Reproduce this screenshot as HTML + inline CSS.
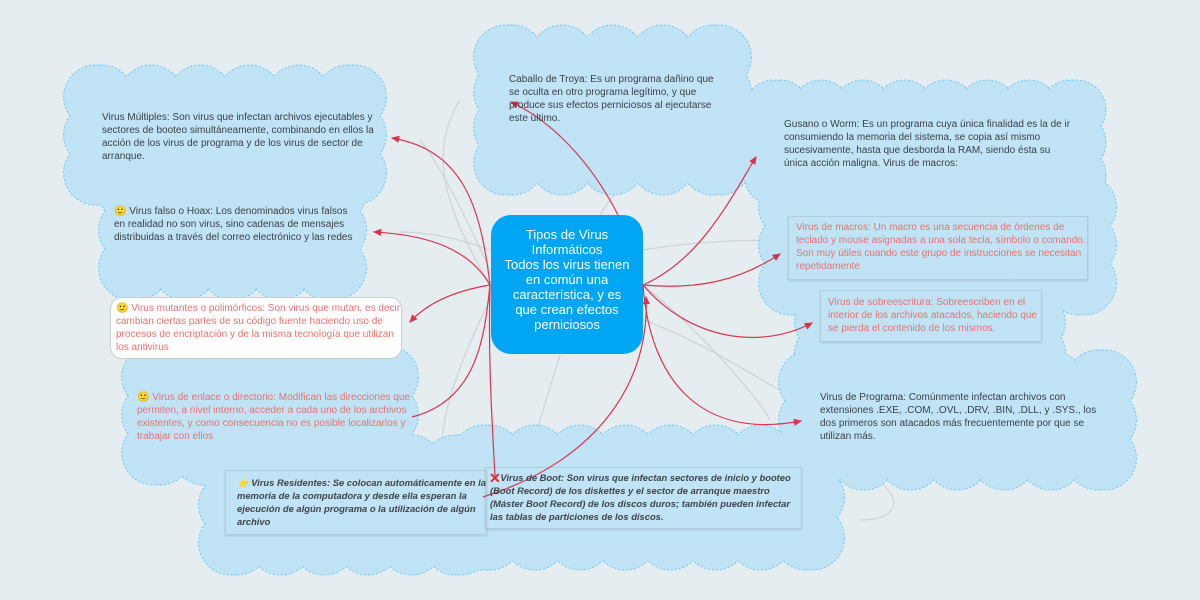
<!DOCTYPE html>
<html><head><meta charset="utf-8"><style>
body{margin:0;width:1200px;height:600px;overflow:hidden;background:#e5edf1;font-family:"Liberation Sans",sans-serif;}
#c{position:absolute;left:0;top:0}
.t{position:absolute;font-size:10px;line-height:12.9px;color:#3a3f44}
.s{color:#e8736e}
.i{font-style:italic;font-weight:bold;color:#3f444a}
.box{position:absolute;border:1px solid rgba(150,160,170,.35);box-shadow:0 1px 2px rgba(0,0,0,.12)}
</style></head><body>
<svg id="c" width="1200" height="600" xmlns="http://www.w3.org/2000/svg">
<defs><marker id="a" markerWidth="8" markerHeight="8" refX="6" refY="3" orient="auto"><path d="M0,0 L7,3 L0,6 z" fill="#d8344f"/></marker></defs>
<g id="gray" fill="none" stroke="#cdd3d6" stroke-width="1.2">
<path d="M490,285 C440,200 430,150 460,100"/><path d="M490,270 C440,160 420,140 420,140"/>
<path d="M490,250 C450,235 420,232 400,232"/><path d="M490,300 C450,380 430,450 450,470"/>
<path d="M643,285 C700,330 760,400 770,420"/><path d="M643,250 C700,240 760,240 800,240"/>
<path d="M643,320 C700,340 760,380 780,390"/><path d="M600,215 C620,180 650,160 700,140"/>
<path d="M560,355 C540,420 520,480 520,520"/><path d="M800,450 C900,470 920,520 860,520"/>
</g>
<g id="clouds"></g>
</svg>
<div class="box" style="left:788px;top:216px;width:298px;height:62px"></div>
<div class="box" style="left:820px;top:290px;width:220px;height:50px"></div>
<div class="box" style="left:225px;top:470px;width:260px;height:63px"></div>
<div class="box" style="left:485px;top:467px;width:315px;height:60px"></div>
<div style="position:absolute;left:110px;top:297px;width:290px;height:60px;background:#fff;border:1px solid #c8d0d5;border-radius:12px"></div>
<div style="position:absolute;left:491px;top:215px;width:152px;height:139px;background:#00a6f4;border-radius:20px"></div>
<svg style="position:absolute;left:0;top:0" width="1200" height="600" xmlns="http://www.w3.org/2000/svg">
<g fill="none" stroke="#d8344f" stroke-width="1.2">
<path d="M490,285 C480,200 460,150 392,138" marker-end="url(#a)"/>
<path d="M490,285 C470,250 430,235 374,232" marker-end="url(#a)"/>
<path d="M490,285 C460,290 430,300 410,322" marker-end="url(#a)"/>
<path d="M412,417 C480,400 485,330 490,285"/>
<path d="M490,285 C488,360 492,420 495,476"/>
<path d="M483,497 C600,460 650,380 646,297" marker-end="url(#a)"/>
<path d="M618,215 C590,160 550,120 511,102" marker-end="url(#a)"/>
<path d="M643,285 C700,260 730,200 756,157" marker-end="url(#a)"/>
<path d="M643,285 C700,290 740,280 780,254" marker-end="url(#a)"/>
<path d="M643,285 C690,340 760,350 812,323" marker-end="url(#a)"/>
<path d="M643,285 C650,380 700,440 801,421" marker-end="url(#a)"/>
</g>
<text x="489" y="483" font-size="14" font-weight="bold" fill="#e3262f" font-family="Liberation Sans">✕</text>
</svg>
<div class="t" style="left:102px;top:112px;width:280px">Virus Múltiples: Son virus que infectan archivos ejecutables y sectores de booteo simultáneamente, combinando en ellos la acción de los virus de programa y de los virus de sector de arranque.</div>
<div class="t" style="left:114px;top:206px;width:245px">🙂 Virus falso o Hoax: Los denominados virus falsos en realidad no son virus, sino cadenas de mensajes distribuidas a través del correo electrónico y las redes</div>
<div class="t s" style="left:116px;top:303px;width:285px">🙂 Virus mutantes o polimórficos: Son virus que mutan, es decir cambian ciertas partes de su código fuente haciendo uso de procesos de encriptación y de la misma tecnología que utilizan los antivirus</div>
<div class="t s" style="left:137px;top:392px;width:275px">🙂 Virus de enlace o directorio: Modifican las direcciones que permiten, a nivel interno, acceder a cada uno de los archivos existentes, y como consecuencia no es posible localizarlos y trabajar con ellos</div>
<div class="t i" style="left:237px;top:477px;width:252px;font-size:9.4px">⭐ Virus Residentes: Se colocan automáticamente en la memoria de la computadora y desde ella esperan la ejecución de algún programa o la utilización de algún archivo</div>
<div class="t i" style="left:490px;top:472px;width:310px;font-size:9.4px">&nbsp;&nbsp;&nbsp;&nbsp;Virus de Boot: Son virus que infectan sectores de inicio y booteo (Boot Record) de los diskettes y el sector de arranque maestro (Máster Boot Record) de los discos duros; también pueden infectar las tablas de particiones de los discos.</div>
<div class="t" style="left:509px;top:74px;width:212px">Caballo de Troya: Es un programa dañino que se oculta en otro programa legítimo, y que produce sus efectos perniciosos al ejecutarse este último.</div>
<div class="t" style="left:784px;top:119px;width:290px">Gusano o Worm: Es un programa cuya única finalidad es la de ir consumiendo la memoria del sistema, se copia así mismo sucesivamente, hasta que desborda la RAM, siendo ésta su única acción maligna. Virus de macros:</div>
<div class="t s" style="left:796px;top:222px;width:290px">Virus de macros: Un macro es una secuencia de órdenes de teclado y mouse asignadas a una sola tecla, símbolo o comando. Son muy útiles cuando este grupo de instrucciones se necesitan repetidamente</div>
<div class="t s" style="left:828px;top:297px;width:212px">Virus de sobreescritura: Sobreescriben en el interior de los archivos atacados, haciendo que se pierda el contenido de los mismos.</div>
<div class="t" style="left:820px;top:392px;width:285px">Virus de Programa: Comúnmente infectan archivos con extensiones .EXE, .COM, .OVL, .DRV, .BIN, .DLL, y .SYS., los dos primeros son atacados más frecuentemente por que se utilizan más.</div>
<div style="position:absolute;left:491px;top:227px;width:152px;text-align:center;color:#fff;font-size:13px;line-height:15px;white-space:nowrap">Tipos de Virus<br>Informáticos<br>Todos los virus tienen<br>en común una<br>característica, y es<br>que crean efectos<br>perniciosos</div>
<script>
var clouds=[[70,65,310,140],[105,160,255,140],[128,345,284,140],[205,435,282,140],[458,425,380,145],[480,25,265,170],[750,80,350,125],[765,175,345,140],[800,265,260,115],[785,350,345,140]];
var g=document.getElementById('clouds'),s='',f='';
clouds.forEach(function(c){var x=c[0],y=c[1],w=c[2],h=c[3],r=Math.min(h/4.2,32),cs=[];
var n=Math.max(2,Math.round((w-2*r)/(1.5*r)));for(var i=0;i<=n;i++){var cx=x+r+(w-2*r)*i/n;cs.push([cx,y+r]);cs.push([cx,y+h-r]);}
var m=Math.max(1,Math.round((h-2*r)/(1.3*r)));for(var j=0;j<=m;j++){var cy=y+r+(h-2*r)*j/m;cs.push([x+r*0.8,cy]);cs.push([x+w-r*0.8,cy]);}
cs.forEach(function(p){s+='<circle cx="'+p[0]+'" cy="'+p[1]+'" r="'+r+'"/>';f+='<circle cx="'+p[0]+'" cy="'+p[1]+'" r="'+(r-0.8)+'"/>';});
f+='<rect x="'+(x+r*0.6)+'" y="'+(y+r*0.6)+'" width="'+(w-1.2*r)+'" height="'+(h-1.2*r)+'"/>';});
g.innerHTML='<g fill="#c0e3f6" stroke="#6fc6f2" stroke-width="1" stroke-dasharray="2,2">'+s+'</g><g fill="#c0e3f6">'+f+'</g>';
</script>
</body></html>
